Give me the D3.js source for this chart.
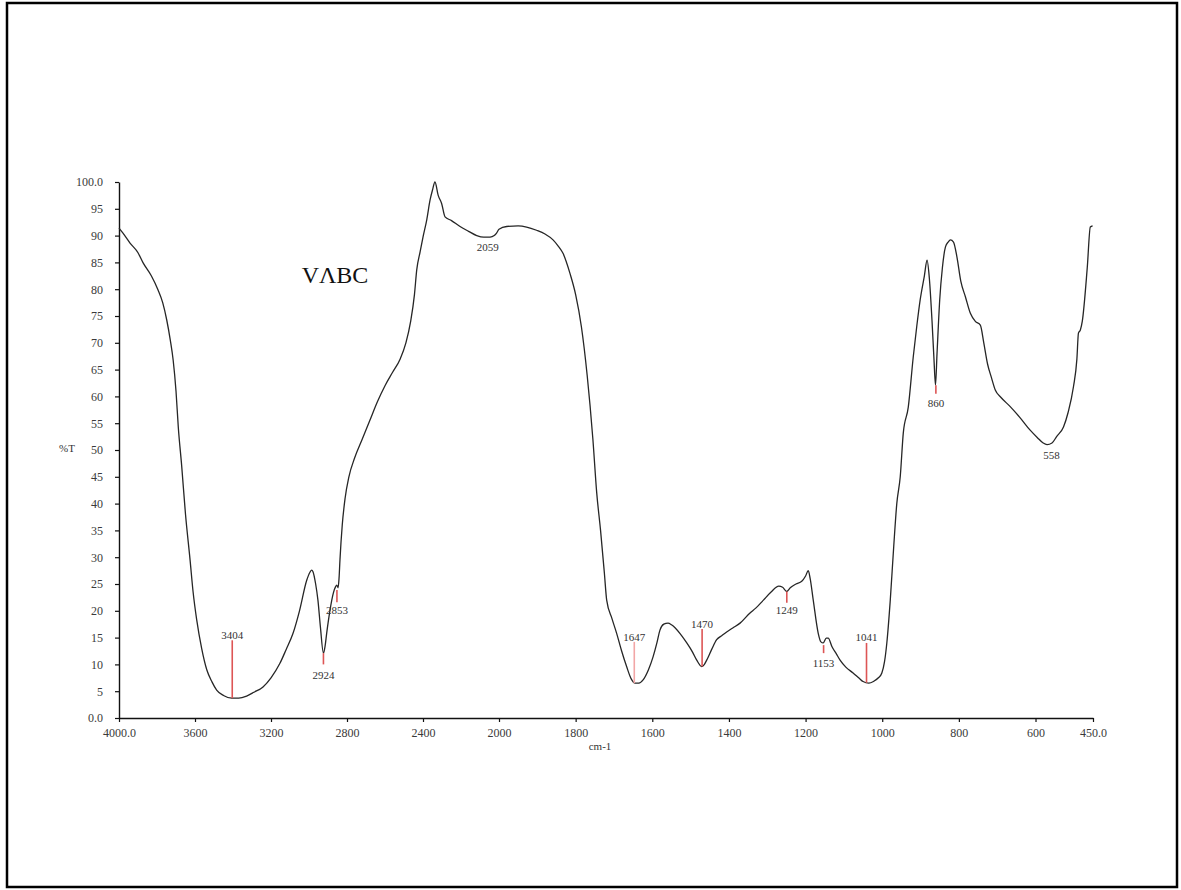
<!DOCTYPE html>
<html>
<head>
<meta charset="utf-8">
<script src="https://cdnjs.cloudflare.com/ajax/libs/d3/7.8.5/d3.min.js"></script>
<style>
  html, body { margin: 0; padding: 0; background: #fff; }
  .chart text { font-family: "Liberation Serif", "Times New Roman", serif; }
</style>
</head>
<body>
<div class="chart"></div>
<script>
// DATA **************************************************************
// wavenumber (cm-1) and %T
var wavenumbers = [4000, 3980, 3942, 3900, 3873, 3830, 3795, 3770, 3749, 3730, 3715, 3700, 3688, 3670, 3650, 3626,
  3610, 3591, 3565, 3538, 3510, 3486, 3450, 3407, 3370, 3328, 3290, 3242, 3200, 3153, 3120, 3084, 3050, 3012,
  2995, 2986, 2979, 2965, 2953, 2940, 2924, 2915, 2907, 2890, 2872, 2860, 2854, 2847, 2842, 2837, 2825, 2810,
  2790, 2760, 2720, 2680, 2640, 2600, 2560, 2520, 2490, 2465, 2445, 2433, 2415, 2400, 2380, 2363, 2350, 2337,
  2320, 2302, 2284, 2250, 2205, 2160, 2117, 2080, 2047, 2025, 2012, 2000, 1980, 1950, 1928, 1902, 1880, 1859,
  1845, 1833, 1815, 1800, 1785, 1770, 1755, 1745, 1735, 1725, 1719, 1705, 1693, 1680, 1667, 1655, 1645, 1635,
  1624, 1610, 1598, 1588, 1580, 1570, 1559, 1550, 1540, 1525, 1510, 1495, 1484, 1471, 1465, 1458, 1445, 1432,
  1418, 1405, 1390, 1371, 1345, 1330, 1310, 1290, 1270, 1260, 1249, 1240, 1225, 1210, 1200, 1193, 1188, 1180,
  1167, 1160, 1154, 1146, 1141, 1131, 1120, 1110, 1095, 1076, 1060, 1050, 1035, 1023, 1010, 1001, 994, 988,
  979, 970, 962, 953, 945, 932, 919, 910, 901, 890, 883, 877, 870, 865, 861, 857, 850, 843, 835, 828, 822, 814,
  805, 795, 783, 770, 757, 744, 735, 725, 715, 705, 690, 666, 640, 614, 595, 580, 570, 557, 545, 527, 515, 501,
  492, 488, 483, 478, 465, 457, 451];
var transmittance = [91.4, 90.5, 88.6, 86.8, 84.9, 82.5, 79.9, 77.5, 74.3, 70.5, 66.8, 61, 54.3, 47, 38, 29.5,
  23.5, 18.3, 13, 9, 6.7, 5.2, 4.2, 3.7, 3.7, 4.1, 4.8, 5.8, 7.5, 10.2, 12.8, 15.8, 20, 25.7,
  27.2, 27.6, 27.3, 25, 22, 17, 12.1, 13.5, 15.8, 20, 23.3, 24.5, 24.8, 24.3, 26, 29.5, 36, 41,
  45, 48.5, 52, 55.5, 59, 62, 64.5, 67, 70, 74, 79, 83.6, 87, 89.7, 93, 96.6, 98.5, 100,
  97.5, 96, 93.5, 92.8, 91.7, 90.8, 90, 89.7, 89.7, 90, 90.5, 91.2, 91.7, 91.8, 91.6, 91, 90.3, 89.2,
  88, 86.7, 83, 79, 73, 64, 52, 42, 35, 27, 22, 18.5, 15.8, 12.5, 9.6, 7.3, 6.5, 6.5,
  7.1, 9, 11.4, 14, 16.4, 17.5, 17.7, 17.4, 16.8, 15.5, 14, 12.3, 10.8, 9.6, 9.9, 10.8, 12.8, 14.6,
  15.4, 16.1, 16.8, 17.7, 19.6, 20.5, 22, 23.5, 24.6, 24.4, 23.6, 24.3, 25, 25.5, 26.5, 27.5, 26, 22,
  15.8, 14.2, 14, 14.9, 14.9, 13.3, 12, 10.8, 9.5, 8.4, 7.4, 6.8, 6.5, 6.8, 7.5, 8.4, 10.5, 14,
  22, 32, 40, 45, 53.2, 58, 67.4, 73, 78, 82.5, 85.4, 82, 74, 67, 62.1, 68, 78, 84, 87.9, 88.8, 89.2, 88.8,
  86, 81.5, 78.6, 75.5, 74, 73.3, 70, 66, 63.5, 61.2, 59.8, 58.1, 56, 53.7, 52.3, 51.3, 51, 51.3, 52.5, 54.3, 57, 61.8,
  67, 71.8, 72.4, 74, 84, 91.6, 91.8];

// peak annotations: label, position, red marker span (%T), label baseline (%T)
var peakLabels = ['3404', '2924', '2853', '2059', '1647', '1470', '1249', '1153', '1041', '860', '558'];
var peakWn     = [3404, 2924, 2853, 2059, 1647, 1470, 1249, 1153, 1041, 860, 558];
var markLow    = [3.7, 10.0, 21.6, null, 6.5, 9.6, 21.5, 12.1, 6.6, 60.5, null];
var markHigh   = [14.5, 12.1, 23.9, null, 14.2, 16.6, 23.6, 13.6, 14.0, 62.1, null];
var labelT     = [14.7, 7.3, 19.4, 87.1, 14.4, 16.8, 19.4, 9.5, 14.4, 58.0, 48.3];

var xTicks = [4000, 3600, 3200, 2800, 2400, 2000, 1800, 1600, 1400, 1200, 1000, 800, 600, 450];
var yTicks = d3.range(0, 101, 5);

// SETUP *************************************************************
var W = 1181, H = 890;
var svg = d3.select('.chart').append('svg')
    .attr('width', W)
    .attr('height', H);

svg.append('rect')
    .attr('width', W).attr('height', H)
    .attr('fill', '#fff');

// page frame
svg.append('rect')
    .attr('x', 7).attr('y', 3)
    .attr('width', W - 11).attr('height', H - 6)
    .attr('fill', 'none')
    .attr('stroke', '#000')
    .attr('stroke-width', 2.5);

// SCALES: instrument switches scale at 2000 cm-1
var xScale = d3.scaleLinear()
    .domain([4000, 2000, 450])
    .range([119, 499, 1093]);
var yScale = d3.scaleLinear()
    .domain([0, 100])
    .range([718, 182]);

// AXES
var fmtX = function(d) { return (d === 4000 || d === 450) ? d.toFixed(1) : d; };
var fmtY = function(d) { return (d === 0 || d === 100) ? d.toFixed(1) : d; };

var xAxisG = svg.append('g')
    .attr('transform', 'translate(0,' + yScale(0) + ')')
    .call(d3.axisBottom(xScale).tickValues(xTicks).tickFormat(fmtX)
        .tickSize(4).tickSizeOuter(0).tickPadding(6));
var yAxisG = svg.append('g')
    .attr('transform', 'translate(' + xScale(4000) + ',0)')
    .call(d3.axisLeft(yScale).tickValues(yTicks).tickFormat(fmtY)
        .tickSize(4).tickSizeOuter(0).tickPadding(12));

[xAxisG, yAxisG].forEach(function(g) {
    g.select('.domain').attr('stroke', '#111').attr('stroke-width', 1.4);
    g.selectAll('.tick line').attr('stroke', '#111').attr('stroke-width', 1.2);
    g.selectAll('.tick text')
        .attr('fill', '#3a3a3a')
        .style('font-family', '"Liberation Serif", serif')
        .style('font-size', '12px');
});

// axis titles
svg.append('text')
    .attr('x', 600).attr('y', 750)
    .attr('text-anchor', 'middle')
    .attr('font-size', 11).attr('fill', '#333')
    .text('cm-1');
svg.append('text')
    .attr('x', 67).attr('y', 452)
    .attr('text-anchor', 'middle')
    .attr('font-size', 11).attr('fill', '#333')
    .text('%T');

// sample name
svg.append('text')
    .attr('x', 335).attr('y', 283)
    .attr('text-anchor', 'middle')
    .attr('font-size', 24).attr('fill', '#111')
    .text('V\u039BBC');

// SPECTRUM
var spectrum = wavenumbers.map(function(w, i) { return [w, transmittance[i]]; });
var line = d3.line()
    .curve(d3.curveMonotoneX)
    .x(function(d) { return xScale(d[0]); })
    .y(function(d) { return yScale(d[1]); });

svg.append('path')
    .datum(spectrum)
    .attr('d', line)
    .attr('fill', 'none')
    .attr('stroke', '#262626')
    .attr('stroke-width', 1.3)
    .attr('stroke-linejoin', 'round');

// PEAK MARKERS
var peaks = svg.append('g');
peakLabels.forEach(function(lab, i) {
    var px = xScale(peakWn[i]);
    if (markLow[i] !== null) {
        peaks.append('line')
            .attr('x1', px).attr('x2', px)
            .attr('y1', yScale(markLow[i])).attr('y2', yScale(markHigh[i]))
            .attr('stroke', lab === '1647' ? '#f2a6a6' : '#dd5555')
            .attr('stroke-width', 1.6);
    }
    peaks.append('text')
        .attr('x', px).attr('y', yScale(labelT[i]))
        .attr('text-anchor', 'middle')
        .attr('font-size', 11).attr('fill', '#333')
        .text(lab);
});
</script>
</body>
</html>
